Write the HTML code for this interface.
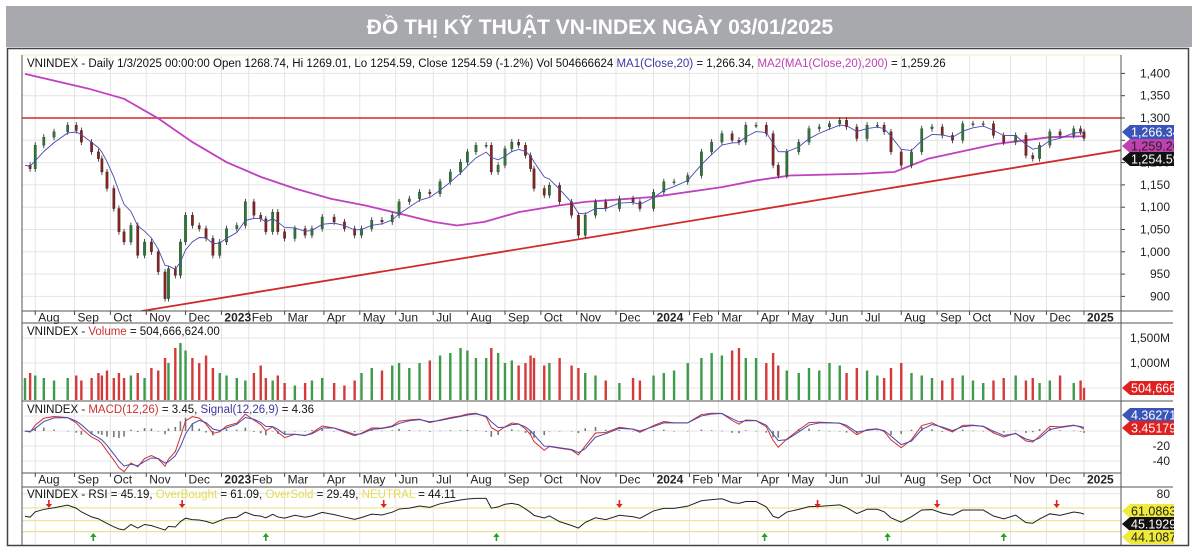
<!DOCTYPE html>
<html><head><meta charset="utf-8"><style>
body{margin:0;background:#fff;width:1200px;height:555px;overflow:hidden}
svg{display:block;font-family:"Liberation Sans",Arial,sans-serif}
</style></head><body>
<svg id="c" width="1200" height="555" viewBox="0 0 1200 555">
<rect x="0" y="0" width="1200" height="555" fill="#fff"/>
<rect x="6" y="6" width="1186" height="41" fill="#a7a9ac"/>
<text x="600" y="34" text-anchor="middle" fill="#fff" font-size="21" font-weight="bold">ĐỒ THỊ KỸ THUẬT VN-INDEX NGÀY 03/01/2025</text>
<rect x="7.5" y="48.5" width="1181" height="497" fill="#fff" stroke="#444" stroke-width="1.5"/>
<line x1="22" y1="55" x2="1121" y2="55" stroke="#f3ecc0"/>
<g id="grid"></g>
<g id="marks"></g>
<g id="axes"></g>
<text x="27" y="67" font-size="11.5" fill="#111">VNINDEX - Daily 1/3/2025 00:00:00 Open 1268.74, Hi 1269.01, Lo 1254.59, Close 1254.59 (-1.2%) Vol 504666624 <tspan fill="#3a3aa0">MA1(Close,20)</tspan> = 1,266.34, <tspan fill="#c040b0">MA2(MA1(Close,20),200)</tspan> = 1,259.26</text>
<text x="27" y="335" font-size="11.5" fill="#111">VNINDEX - <tspan fill="#d03030">Volume</tspan> = 504,666,624.00</text>
<text x="27" y="413" font-size="11.5" fill="#111">VNINDEX - <tspan fill="#d03030">MACD(12,26)</tspan> = 3.45, <tspan fill="#3a3aa0">Signal(12,26,9)</tspan> = 4.36</text>
<text x="27" y="498" font-size="11.5" fill="#111">VNINDEX - RSI = 45.19, <tspan fill="#e6dc50">OverBought</tspan> = 61.09, <tspan fill="#e6dc50">OverSold</tspan> = 29.49, <tspan fill="#e6dc50">NEUTRAL</tspan> = 44.11</text>
<g id="tags"></g>
</svg>
<script>
// ---- data ----
const days = [0,3,6,11,17,25,30,33,39,43,45,48,52,55,58,62,66,70,74,78,82,84,88,91,94,98,102,106,110,114,118,124,129,134,138,141,145,148,152,158,164,168,174,181,187,193,197,203,209,215,219,225,231,237,243,249,255,259,264,270,273,277,281,285,289,293,296,298,304,
307,313,320,324,328,334,340,348,356,360,368,374,380,388,396,402,408,414,418,422,428,434,438,441,446,453,459,465,471,477,481,487,493,499,503,507,513,519,525,531,537,543,549,555,561,567,573,580,586,590,594,600,606,614,618,620];
const closes = [1194,1186,1239,1257,1269,1284,1272,1246,1224,1209,1179,1142,1097,1045,1022,1059,992,1022,1000,955,895,962,947,1022,1082,1059,1052,1030,992,1022,1052,1059,1112,1082,1074,1045,1089,1045,1030,1052,1037,1052,1078,1067,1052,1037,1052,1071,1067,1082,1112,1119,1134,1130,1157,1179,1201,1224,1239,1239,1179,1194,1231,1246,1239,1216,1186,1142,1127,
1149,1112,1082,1037,1082,1112,1097,1119,1112,1097,1134,1157,1157,1171,1224,1246,1265,1250,1246,1284,1284,1265,1194,1171,1224,1246,1276,1280,1287,1295,1280,1254,1284,1284,1269,1224,1194,1224,1276,1280,1261,1250,1287,1287,1287,1261,1246,1261,1216,1209,1239,1269,1261,1276,1269,1254.59];
const volumes = [700,800,750,700,650,700,750,650,700,800,750,850,700,800,700,750,800,700,900,850,1100,1000,1300,1400,1250,1100,1000,1150,900,800,750,700,650,800,950,700,650,750,600,550,600,650,700,600,550,650,800,900,850,950,1000,900,1000,1050,1150,1200,1300,1250,1100,1100,1300,1200,1000,1050,950,1000,1150,1100,950,
1000,1100,950,900,800,750,650,600,700,650,750,800,850,1000,1100,1200,1150,1250,1300,1100,1100,1000,1200,950,850,800,900,850,1000,950,800,900,850,750,700,900,1000,800,750,700,650,700,750,650,600,650,700,750,650,700,600,650,750,600,650,505];
const ma200Days = [0,37,58,78,98,118,138,158,179,199,219,239,253,269,289,313,328,368,408,428,448,489,509,529,569,600,620];
const ma200Vals = [1399,1366,1343,1299,1246,1201,1168,1142,1119,1104,1086,1067,1059,1067,1089,1104,1112,1123,1145,1160,1171,1175,1179,1209,1242,1257,1259];
const trendDays = [68,642];
const trendVals = [867,1228];
const resistance = 1300;
const monthDays = [6,29,50,71,94,115,131,152,175,196,217,239,259,281,302,323,346,368,389,406,429,447,469,490,513,534,553,577,598,620];
const monthLabels = ["Aug","Sep","Oct","Nov","Dec","2023","Feb","Mar","Apr","May","Jun","Jul","Aug","Sep","Oct","Nov","Dec","2024","Feb","Mar","Apr","May","Jun","Jul","Aug","Sep","Oct","Nov","Dec","2025"];
const priceTicks = [900,950,1000,1050,1100,1150,1200,1250,1300,1350,1400];
const volTicks = [1000,1500];
const macdTicks = [-20,-40];
const rsiTicks = [80];
const rsiLevels = [61.09,44.11,29.49];
const redArrowDays = [14,92,210,348,464,534,604];
const greenArrowDays = [40,141,276,433,505,573];

// ---- scales ----
const X = d => 25 + d*1059/620;
const YP = p => 118 + (1300-p)*0.446;
const YV = v => 413 - v*0.05;
const YM = v => 431 - v*0.75;
const YR = v => 508 + (61-v)*0.75;
const NS='http://www.w3.org/2000/svg';
function mk(tag, attrs, parent){const e=document.createElementNS(NS,tag);for(const k in attrs)e.setAttribute(k,attrs[k]);parent.appendChild(e);return e;}
const grid=document.getElementById('grid'), marks=document.getElementById('marks'), axes=document.getElementById('axes'), tags=document.getElementById('tags');

const defs=mk('defs',{},document.getElementById('c'));
[['cp',22,56,1099,255],['cv',22,323,1099,77],['cm',22,401,1099,72],['cr',22,487,1099,58],['ct',0,0,1174,555]].forEach(a=>{const c=mk('clipPath',{id:a[0]},defs);mk('rect',{x:a[1],y:a[2],width:a[3],height:a[4]},c);});

const panels=[[56,311],[323,401],[401,473],[487,545]];
panels.forEach(p=>{monthDays.forEach(d=>{const l=mk('line',{x1:X(d),x2:X(d),y1:p[0],y2:p[1],stroke:'#e4e4e4'},grid);

});});
priceTicks.forEach(p=>{const l=mk('line',{x1:22,x2:1121,y1:YP(p),y2:YP(p),stroke:'#e4e4e4'},grid);


const t=mk('text',{x:1170,y:YP(p)+4,'text-anchor':'end','font-size':12,fill:'#222'},axes);t.textContent=p.toLocaleString('en-US');


mk('line',{x1:1121,x2:1125,y1:YP(p),y2:YP(p),stroke:'#444'},axes);});
[500,1000,1500].forEach(v=>{const l=mk('line',{x1:22,x2:1121,y1:YV(v),y2:YV(v),stroke:'#e4e4e4'},grid);

});
volTicks.forEach(v=>{const t=mk('text',{x:1170,y:YV(v)+4,'text-anchor':'end','font-size':12,fill:'#222'},axes);t.textContent=v.toLocaleString('en-US')+'M';

});
[20,0,-20,-40].forEach(v=>{const l=mk('line',{x1:22,x2:1121,y1:YM(v),y2:YM(v),stroke:'#e4e4e4'},grid);

});
macdTicks.forEach(v=>{const t=mk('text',{x:1170,y:YM(v)+4,'text-anchor':'end','font-size':12,fill:'#222'},axes);t.textContent=v;

});
rsiTicks.forEach(v=>{const l=mk('line',{x1:22,x2:1121,y1:YR(v),y2:YR(v),stroke:'#e4e4e4'},grid);


const t=mk('text',{x:1170,y:YR(v)+4,'text-anchor':'end','font-size':12,fill:'#222'},axes);t.textContent=v;

});

[[22,311,1173,311],[22,323,1173,323],[22,401,1173,401],[22,473,1121,473],[22,487,1173,487],[1121,55,1121,545],[22,55,22,545]].forEach(a=>{const l=mk('line',{x1:a[0],y1:a[1],x2:a[2],y2:a[3],stroke:'#555','stroke-width':1},axes);

});
[[311,321],[473,483]].forEach(r=>{monthDays.forEach((d,i)=>{mk('line',{x1:X(d),x2:X(d),y1:r[0],y2:r[0]+4,stroke:'#444'},axes);
const t=mk('text',{x:X(d)+3,y:r[1]+0.5,'font-size':12,fill:'#222','font-weight':/^20/.test(monthLabels[i])?'bold':'normal'},axes);t.textContent=monthLabels[i];

});});

// price panel
const gp=mk('g',{'clip-path':'url(#cp)'},marks);
const res=mk('line',{x1:22,x2:1121,y1:YP(resistance),y2:YP(resistance),stroke:'#d02a2a','stroke-width':1.6},gp);


const tr=mk('line',{x1:X(trendDays[0]),y1:YP(trendVals[0]),x2:X(trendDays[1]),y2:YP(trendVals[1]),stroke:'#d02a2a','stroke-width':1.8},gp);


const ma2=mk('polyline',{points:ma200Days.map((d,i)=>X(d)+','+YP(ma200Vals[i])).join(' '),fill:'none',stroke:'#c040c0','stroke-width':1.8},gp);


function ema(vals,N){const out=[];let e=vals[0];for(let i=0;i<vals.length;i++){if(i>0){const a=1-Math.pow(1-2/(N+1),days[i]-days[i-1]);e=e+a*(vals[i]-e);}out.push(e);}return out;}
const ma20=ema(closes,20);
for(let i=1;i<closes.length;i++){const o=closes[i-1],c=closes[i];const up=c>=o;const x=X(days[i]);
const w=mk('line',{x1:x,x2:x,y1:YP(Math.max(o,c))-3,y2:YP(Math.min(o,c))+3,stroke:'#222','stroke-width':0.8},gp);


const b=mk('rect',{x:x-1.2,y:YP(Math.max(o,c)),width:2.4,height:Math.max(1,Math.abs(YP(o)-YP(c))),fill:up?'#2a7a35':'#8a2020',stroke:'#222','stroke-width':0.3},gp);

}
const m1=mk('polyline',{points:days.map((d,i)=>X(d)+','+YP(ma20[i])).join(' '),fill:'none',stroke:'#4a4ab0','stroke-width':0.9},gp);



// volume
const gv=mk('g',{'clip-path':'url(#cv)'},marks);
volumes.forEach((v,i)=>{const up=i==0||closes[i]>=closes[i-1];const y=YV(v);
const b=mk('rect',{x:X(days[i])-1.2,y:y,width:2.4,height:Math.max(0,400-y),fill:up?'#3f9a4a':'#d53a3a'},gv);

});

// macd
const e12=ema(closes,12),e26=ema(closes,26);const macd=e12.map((v,i)=>v-e26[i]);
const sig=(function(){const out=[];let e=macd[0];for(let i=0;i<macd.length;i++){if(i>0){const a=1-Math.pow(1-2/10,days[i]-days[i-1]);e=e+a*(macd[i]-e);}out.push(e);}return out;})();
const gm=mk('g',{'clip-path':'url(#cm)'},marks);
macd.forEach((v,i)=>{const h=(v-sig[i]);const b=mk('rect',{x:X(days[i])-0.8,y:Math.min(YM(0),YM(h)),width:1.6,height:Math.max(0.5,Math.abs(YM(h)-YM(0))),fill:'#777'},gm);

});
const ml=mk('polyline',{points:days.map((d,i)=>X(d)+','+YM(macd[i])).join(' '),fill:'none',stroke:'#d03030','stroke-width':1},gm);


const sl=mk('polyline',{points:days.map((d,i)=>X(d)+','+YM(sig[i])).join(' '),fill:'none',stroke:'#4a4ab0','stroke-width':1},gm);



// rsi
const gr=mk('g',{'clip-path':'url(#cr)'},marks);
rsiLevels.forEach(v=>{const l=mk('line',{x1:22,x2:1121,y1:YR(v),y2:YR(v),stroke:'#ece48a','stroke-width':1.2},gr);

});
const rsi=[];let ag=8,al=8;for(let i=0;i<closes.length;i++){if(i>0){const ch=closes[i]-closes[i-1];const a=1-Math.pow(1-1/40,days[i]-days[i-1]);ag+=a*(Math.max(ch,0)-ag);al+=a*(Math.max(-ch,0)-al);}let r=100-100/(1+ag/Math.max(al,0.01));r=50+(r-50)*0.65;rsi.push(Math.max(26,Math.min(82,r)));}
const rl=mk('polyline',{points:days.map((d,i)=>X(d)+','+YR(rsi[i])).join(' '),fill:'none',stroke:'#222','stroke-width':1},gr);


redArrowDays.forEach(d=>{const x=X(d);const a=mk('path',{d:`M${x-0.8} 500h1.6v4h2.4l-3.2 4l-3.2-4h2.4z`,fill:'#e02020'},gr);

});
greenArrowDays.forEach(d=>{const x=X(d);const a=mk('path',{d:`M${x-0.8} 541h1.6v-4h2.4l-3.2-4l-3.2 4h2.4z`,fill:'#20a030'},gr);

});

// right-axis value tags
const tagData=[[132,'#3a54b8','#fff','1,266.34'],[146,'#c040b0','#222','1,259.26'],[159,'#111','#fff','1,254.59'],[388,'#e02020','#fff','504,666,624'],[415,'#3a54b8','#fff','4.36271'],[428,'#e02020','#fff','3.45179'],[511,'#f0ea3a','#222','61.0863'],[524,'#111','#fff','45.1929'],[537,'#f0ea3a','#222','44.1087']];
const gt=mk('g',{'clip-path':'url(#ct)'},tags);
tagData.forEach(t=>{const y=t[0];const p=mk('path',{d:`M1122 ${y}L1130 ${y-7}H1180V${y+7}H1130Z`,fill:t[1]},gt);


const tx=mk('text',{x:1131,y:y+4.5,'font-size':12.5,fill:t[2]},gt);tx.textContent=t[3];

});
</script>
</body></html>
